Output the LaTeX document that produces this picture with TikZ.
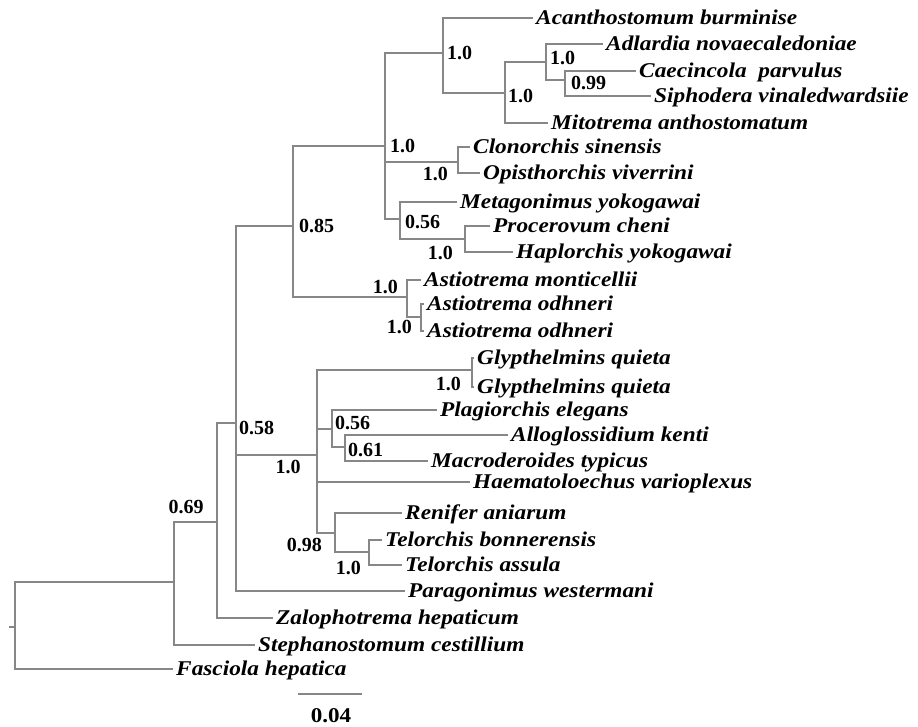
\documentclass[tikz,border=0pt]{standalone}
\usepackage{fontspec}
\setmainfont{Liberation Serif}
\newfontfamily\leaffont{Liberation Serif}[FakeStretch=1.11]
\newfontfamily\scalefont{Liberation Serif}[FakeStretch=1.1]
\definecolor{branch}{RGB}{135,135,135}
\tikzset{
  br/.style={draw=branch, line width=1.1pt},
  leaf/.style={anchor=west, inner xsep=3pt, inner ysep=0pt, text height=15.5pt, text depth=3pt,
    font=\leaffont\bfseries\itshape\fontsize{21}{24}\selectfont},
  supp/.style={inner sep=0pt, font=\bfseries\fontsize{20}{22}\selectfont}
}
\begin{document}
\begin{tikzpicture}[x=1pt,y=-1pt]
\useasboundingbox (0,0) rectangle (918,727);
% internal nodes
\coordinate (root) at (15,627);
\coordinate (rs) at (9,627);
\coordinate (n174) at (174,582);
\coordinate (n217) at (217,522);
\coordinate (n236) at (236,423);
\coordinate (n293) at (293,226);
\coordinate (n385) at (385,146);
\coordinate (n443) at (443,53);
\coordinate (n505) at (505,93);
\coordinate (n546) at (546,62);
\coordinate (n565) at (565,80);
\coordinate (n458) at (458,162);
\coordinate (n400) at (400,219);
\coordinate (n465) at (465,239);
\coordinate (n407) at (407,297);
\coordinate (n421) at (421,317);
\coordinate (n317) at (317,455);
\coordinate (n472) at (472,370);
\coordinate (n332) at (332,429);
\coordinate (n345) at (345,447);
\coordinate (n335) at (335,533);
\coordinate (n369) at (369,552);
% leaves
\node[leaf] (acan) at (533,18) {Acanthostomum burminise};
\node[leaf] (adla) at (603,44) {Adlardia novaecaledoniae};
\node[leaf] (caec) at (636,71) {Caecincola\ \ parvulus};
\node[leaf] (siph) at (651,96) {Siphodera vinaledwardsiie};
\node[leaf] (mito) at (548,123) {Mitotrema anthostomatum};
\node[leaf] (clon) at (470,147) {Clonorchis sinensis};
\node[leaf] (opis) at (480,173) {Opisthorchis viverrini};
\node[leaf] (meta) at (457,202) {Metagonimus yokogawai};
\node[leaf] (proc) at (490,226) {Procerovum cheni};
\node[leaf] (hapl) at (513,252) {Haplorchis yokogawai};
\node[leaf] (amon) at (421,280) {Astiotrema monticellii};
\node[leaf] (aoda) at (424,304) {Astiotrema odhneri};
\node[leaf] (aodb) at (424,331) {Astiotrema odhneri};
\node[leaf] (glya) at (474,358) {Glypthelmins quieta};
\node[leaf] (glyb) at (474,387) {Glypthelmins quieta};
\node[leaf] (plag) at (437,410) {Plagiorchis elegans};
\node[leaf] (allo) at (508,435) {Alloglossidium kenti};
\node[leaf] (macr) at (428,461) {Macroderoides typicus};
\node[leaf] (haem) at (470,482) {Haematoloechus varioplexus};
\node[leaf] (reni) at (402,513) {Renifer aniarum};
\node[leaf] (telb) at (382,540) {Telorchis bonnerensis};
\node[leaf] (tela) at (402,565) {Telorchis assula};
\node[leaf] (para) at (405,591) {Paragonimus westermani};
\node[leaf] (zalo) at (273,618) {Zalophotrema hepaticum};
\node[leaf] (step) at (255,645) {Stephanostomum cestillium};
\node[leaf] (fasc) at (173,669) {Fasciola hepatica};
% branches
\draw[br] (rs) -- (root);
\draw[br] (root) |- (n174);
\draw[br] (root) |- (fasc.west);
\draw[br] (n174) |- (n217);
\draw[br] (n174) |- (step.west);
\draw[br] (n217) |- (n236);
\draw[br] (n217) |- (zalo.west);
\draw[br] (n236) |- (n293);
\draw[br] (n236) |- (n317);
\draw[br] (n236) |- (para.west);
\draw[br] (n293) |- (n385);
\draw[br] (n293) |- (n407);
\draw[br] (n385) |- (n443);
\draw[br] (n385) |- (n458);
\draw[br] (n385) |- (n400);
\draw[br] (n443) |- (acan.west);
\draw[br] (n443) |- (n505);
\draw[br] (n505) |- (n546);
\draw[br] (n505) |- (mito.west);
\draw[br] (n546) |- (adla.west);
\draw[br] (n546) |- (n565);
\draw[br] (n565) |- (caec.west);
\draw[br] (n565) |- (siph.west);
\draw[br] (n458) |- (clon.west);
\draw[br] (n458) |- (opis.west);
\draw[br] (n400) |- (meta.west);
\draw[br] (n400) |- (n465);
\draw[br] (n465) |- (proc.west);
\draw[br] (n465) |- (hapl.west);
\draw[br] (n407) |- (amon.west);
\draw[br] (n407) |- (n421);
\draw[br] (n421) |- (aoda.west);
\draw[br] (n421) |- (aodb.west);
\draw[br] (n317) |- (n472);
\draw[br] (n317) |- (n332);
\draw[br] (n317) |- (haem.west);
\draw[br] (n317) |- (n335);
\draw[br] (n472) |- (glya.west);
\draw[br] (n472) |- (glyb.west);
\draw[br] (n332) |- (plag.west);
\draw[br] (n332) |- (n345);
\draw[br] (n345) |- (allo.west);
\draw[br] (n345) |- (macr.west);
\draw[br] (n335) |- (reni.west);
\draw[br] (n335) |- (n369);
\draw[br] (n369) |- (telb.west);
\draw[br] (n369) |- (tela.west);
% support values
\node[supp, anchor=west] (s443) at (447,53) {1.0};
\node[supp, anchor=west] (s546) at (550,58) {1.0};
\node[supp, anchor=west] (s565) at (571,83) {0.99};
\node[supp, anchor=west] (s505) at (508,96) {1.0};
\node[supp, anchor=west] (s385) at (390,146) {1.0};
\node[supp, anchor=east] (s458) at (448,174) {1.0};
\node[supp, anchor=west] (s400) at (405,222) {0.56};
\node[supp, anchor=east] (s465) at (453,253) {1.0};
\node[supp, anchor=west] (s293) at (299,226) {0.85};
\node[supp, anchor=east] (s407) at (398,287) {1.0};
\node[supp, anchor=east] (s421) at (412,327) {1.0};
\node[supp, anchor=west] (s236) at (239,428) {0.58};
\node[supp] (s317) at (288,467) {1.0};
\node[supp] (s217) at (186,507) {0.69};
\node[supp, anchor=east] (s472) at (461,384) {1.0};
\node[supp, anchor=west] (s332) at (335,423) {0.56};
\node[supp, anchor=west] (s345) at (348,450) {0.61};
\node[supp, anchor=east] (s335) at (322,545) {0.98};
\node[supp, anchor=east] (s369) at (361,568) {1.0};
% scale bar
\coordinate (sba) at (298,694);
\coordinate (sbb) at (362,694);
\draw[br] (sba) -- (sbb);
\node[inner sep=0pt, font=\scalefont\bfseries\fontsize{21}{24}\selectfont] (sbl) at (331,716) {0.04};
\end{tikzpicture}
\end{document}
